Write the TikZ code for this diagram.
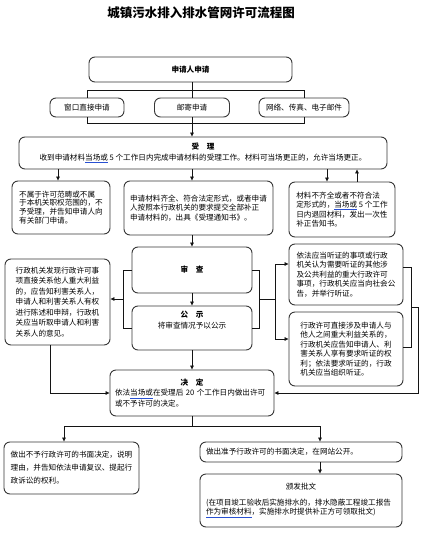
\documentclass[tikz,border=0pt]{standalone}
\usepackage{fontspec}
\setmainfont{Noto Sans CJK SC}
\usepackage{tikz}
\usepackage{xcolor}
\usetikzlibrary{arrows.meta, calc}
\definecolor{cLine}{RGB}{20,20,20}
\definecolor{cFrame}{RGB}{55,55,55}
\definecolor{cMark}{RGB}{40,80,210}
\newcommand{\gramline}[1]{{\color{cMark}\underline{\textcolor{black}{#1}}}}
\tikzset{
	stepbox/.style ={rectangle, rounded corners=6pt, draw=cFrame, line width=0.9pt, fill=white, align=left, inner sep=3pt},
	headbox/.style ={stepbox, align=center},
	link/.style    ={draw=cLine, line width=0.7pt},
	flow/.style    ={link, -{Triangle[length=4pt,width=3.6pt]}},
}

\begin{document}
\begin{tikzpicture}[x=1pt, y=-1pt, font=\fontsize{7.6}{9.5}\selectfont]
	\useasboundingbox (0,0) rectangle (425,536);
	\coordinate (mid) at (192,0);
	\node[font=\fontsize{12.5}{14}\selectfont\bfseries] (title) at (201,13) {城镇污水排入排水管网许可流程图};
	% application
	\node[headbox, minimum width=203pt, minimum height=25pt] (apply) at (190.5,69.5) {\textbf{申请人申请}};
	\node[headbox, minimum width=74pt, minimum height=19pt] (win) at (87,107.5) {窗口直接申请};
	\node[headbox, minimum width=75pt, minimum height=19pt] (post) at (192,107.5) {邮寄申请};
	\node[headbox, minimum width=90pt, minimum height=19pt] (net) at (304,107.5) {网络、传真、电子邮件};
	\draw[link] (apply.south -| mid) -- (post.north);
	\draw[link] (win.north) -- ++(0,-7) -| (net.north);
	\draw[link] (win.south) -- ++(0,6) -| (net.south);
	\draw[link] (post.south) -- ++(0,6) coordinate (j1);
	% acceptance
	\node[headbox, minimum width=368pt, minimum height=32pt, font=\fontsize{7.6}{10.3}\selectfont] (acc) at (203,153) {\textbf{受\quad 理}\\收到申请材料\gramline{当场或}~5~个工作日内完成申请材料的受理工作。材料可当场更正的，允许当场更正。};
	\draw[flow] (j1) -- (acc.north -| j1);
	\node[stepbox, minimum width=98pt, minimum height=53pt, font=\fontsize{7.6}{8.8}\selectfont] (rej) at (61,207.5) {不属于许可范畴或不属\\于本机关职权范围的，不\\予受理，并告知申请人向\\有关部门申请。};
	\node[stepbox, minimum width=149pt, minimum height=54pt] (ok) at (198.5,208) {申请材料齐全、符合法定形式，或者申请\\人按照本行政机关的要求提交全部补正\\申请材料的，出具《受理通知书》。};
	\node[stepbox, minimum width=106pt, minimum height=55pt] (fix) at (342,209.5) {材料不齐全或者不符合法\\定形式的，\gramline{当场或}~5~个工作\\日内退回材料，发出一次性\\补正告知书。};
	\draw[flow] ([xshift=-3pt]rej.north |- acc.south) -- ([xshift=-3pt]rej.north);
	\draw[flow] (acc.south -| mid) -- (ok.north -| mid);
	\draw[flow] ([xshift=-15pt]fix.north |- acc.south) -- ([xshift=-15pt]fix.north);
	\draw[flow] ([xshift=15pt]fix.north) -- ([xshift=15pt]fix.north |- acc.south);
	% review and publicity
	\node[stepbox, minimum width=120pt, minimum height=46pt] (rev) at (192,270) {\textbf{审\quad 查}};
	\node[stepbox, minimum width=120pt, minimum height=44pt] (pub) at (192,328) {\parbox[c][34pt][t]{110pt}{\centering\textbf{公\quad 示}\\[2pt]将审查情况予以公示}};
	\draw[flow] (ok.south -| mid) -- (rev.north -| mid);
	\draw[flow] (rev.south -| mid) -- (pub.north -| mid);
	\node[stepbox, minimum width=105pt, minimum height=86pt, font=\fontsize{7.6}{10.5}\selectfont] (hint) at (57.5,302) {行政机关发现行政许可事\\项直接关系他人重大利益\\的，应告知利害关系人，\\申请人和利害关系人有权\\进行陈述和申辩，行政机\\关应当听取申请人和利害\\关系人的意见。};
	\node[stepbox, minimum width=114pt, minimum height=61pt] (hear) at (346,274.5) {依法应当听证的事项或行政\\机关认为需要听证的其他涉\\及公共利益的重大行政许可\\事项，行政机关应当向社会公\\告，并举行听证。};
	\node[stepbox, minimum width=114pt, minimum height=74pt] (notice) at (346,349) {行政许可直接涉及申请人与\\他人之间重大利益关系的，\\行政机关应告知申请人、利\\害关系人享有要求听证的权\\利；依法要求听证的，行政\\机关应当组织听证。};
	% brackets
	\draw[link] (rev.west) -- ++(-8,0) coordinate (lb1) |- (pub.west);
	\path (pub.west) -- ++(-8,0) coordinate (lb2);
	\coordinate (lb) at ($(lb1)!0.5!(lb2)$);
	\draw[flow] (lb) -- (lb -| hint.east);
	\draw[link] (rev.east) -- ++(7,0) coordinate (rb1) |- (pub.east);
	\path (pub.east) -- ++(7,0) coordinate (rb2);
	\coordinate (rb) at ($(rb1)!0.5!(rb2)$);
	\draw[link] (rb) -- ++(16,0) coordinate (rc);
	\draw[flow] (rc) |- ([yshift=10.5pt]hear.west);
	\draw[flow] (rc) |- ([yshift=10pt]notice.west);
	% decision
	\node[stepbox, text width=154pt, inner xsep=5pt, minimum height=46pt, font=\fontsize{7.6}{10.5}\selectfont] (dec) at (192,393) {\makebox[\linewidth]{\textbf{决\quad 定}}\\依法\gramline{当场或}在受理后~20~个工作日内做出许可\\或不予许可的决定。};
	\draw[link] ([yshift=7.5pt]hear.east) -- ++(8,0) coordinate (fb1) |- ([yshift=2pt]notice.east);
	\path ([yshift=2pt]notice.east) -- ++(8,0) coordinate (fb2);
	\coordinate (fb) at ($(fb1)!0.5!(fb2)$);
	\draw[flow] (fb) -- ++(7,0) |- (dec.east);
	\draw[flow] ([xshift=-7pt]hint.south) |- (dec.west);
	\draw[flow] (pub.south -| mid) -- (dec.north -| mid);
	% results
	\node[stepbox, minimum width=135pt, minimum height=52pt, font=\fontsize{7.6}{13}\selectfont] (deny) at (71.5,468) {做出不予行政许可的书面决定，说明\\理由，并告知依法申请复议、提起行\\政诉讼的权利。};
	\node[stepbox, text width=190pt, inner xsep=6pt, minimum height=20pt] (grant) at (301,452) {做出准予行政许可的书面决定，在网站公开。};
	\node[stepbox, text width=190pt, inner xsep=6pt, minimum height=53pt] (issue) at (301,500.5) {\makebox[\linewidth]{颁发批文}\\[6pt](在项目竣工验收后实施排水的，排水隐蔽工程竣工报告\\\gramline{作为审核材料}，实施排水时提供补正方可领取批文)};
	\draw[link] (dec.south) -- ++(0,10) coordinate (j2);
	\draw[flow] (j2) -| ([xshift=-7.5pt]deny.north);
	\draw[flow] (j2) -| ([xshift=19pt]grant.north);
	\draw[flow] ([xshift=19pt]grant.south) -- ([xshift=19pt]issue.north);
\end{tikzpicture}
\end{document}
